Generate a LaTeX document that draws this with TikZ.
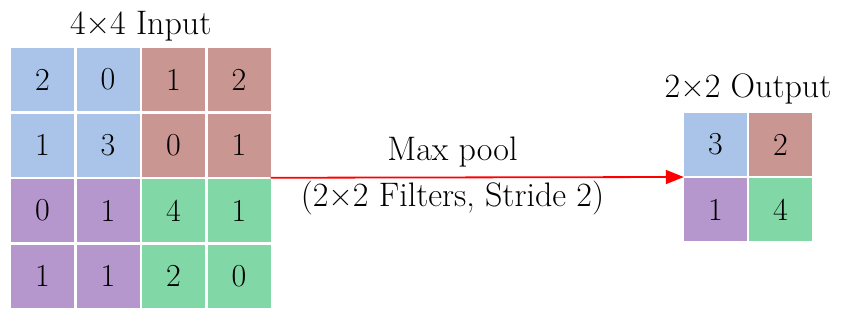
\documentclass[tikz,border=0pt]{standalone}
\usepackage{fontspec}
\usetikzlibrary{arrows.meta,positioning,calc}
\definecolor{poolblue}{RGB}{169,196,232}
\definecolor{poolred}{RGB}{201,150,146}
\definecolor{poolpurple}{RGB}{181,151,206}
\definecolor{poolgreen}{RGB}{129,216,166}
\tikzset{cell/.style = {rectangle, minimum size = 63pt, inner sep = 0pt, font = \fontsize{32}{32}\selectfont},
         title/.style = {inner sep = 0pt, font = \fontsize{34}{34}\selectfont},
         pool/.style = {draw = red, line width = 1.8pt, -{Triangle[length = 18pt, width = 14pt]}},
}

\begin{document}
\begin{tikzpicture}[x = 1pt, y = -1pt]
  \useasboundingbox (0,0) rectangle (847,319);

  % 4x4 input
  \foreach \r/\cells in {0/{2/poolblue,0/poolblue,1/poolred,2/poolred},
                         1/{1/poolblue,3/poolblue,0/poolred,1/poolred},
                         2/{0/poolpurple,1/poolpurple,4/poolgreen,1/poolgreen},
                         3/{1/poolpurple,1/poolpurple,2/poolgreen,0/poolgreen}}
    \foreach \v/\col [count = \c from 0] in \cells
      \node[cell, fill = \col] (in-\r-\c) at ({42.5 + 65.5*\c}, {79.5 + 65.5*\r}) {\v};

  % 2x2 output
  \foreach \r/\cells in {0/{3/poolblue,2/poolred},
                         1/{1/poolpurple,4/poolgreen}}
    \foreach \v/\col [count = \c from 0] in \cells
      \node[cell, fill = \col] (out-\r-\c) at ({715.5 + 65*\c}, {144.5 + 65*\r}) {\v};

  \node[title, above = 6pt] (intitle) at ($(in-0-0.north)!.5!(in-0-3.north)$) {4×4 Input};
  \node[title, above = 8pt] (outtitle) at ($(out-0-0.north)!.5!(out-0-1.north)$) {2×2 Output};

  \coordinate (poolstart) at ($(in-1-3.south east)!.5!(in-2-3.north east)$);
  \coordinate (poolend) at ($(out-0-0.south west)!.5!(out-1-0.north west)$);

  \draw[pool] (poolstart) -- node[title, pos = .44, above = 9pt] (pooltext) {Max pool}
                             node[title, pos = .44, below = 3pt] (poolargs) {(2×2 Filters, Stride 2)} (poolend);

\end{tikzpicture}
\end{document}
